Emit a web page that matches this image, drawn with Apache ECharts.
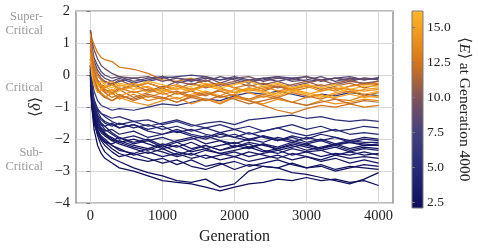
<!DOCTYPE html>
<html><head><meta charset="utf-8">
<script src="https://cdn.jsdelivr.net/npm/echarts@6/dist/echarts.min.js"></script>
<style>html,body{margin:0;padding:0;background:#fff}#c{width:478px;height:250px}</style>
</head><body><div id="c"></div>
<script>
// Generations sampled
const gens = [0,20,50,100,150,200,300,400,600,800,1000,1200,1400,1600,1800,2000,2200,2400,2600,2800,3000,3200,3400,3600,3800,4000];
const xTicks = [0,1000,2000,3000,4000];
const cbTicks = [2.5,5,7.5,10,12.5,15];
const cbMin = 2.07, cbMax = 16.2;
const cbStopVals = [2.07,5.0,7.5,10.0,12.5,15.0,16.2];
const cbStopCols = ['#0d0d5c','#272c78','#43417f','#80535a','#d6761a','#f7a01c','#fdb82a'];

// <E> at generation 4000 for each run
const energyN = [2.2,2.4,2.6,3.0,2.9,3.3,3.5,2.8,3.8,3.1,4.0,3.6,4.3,4.6,3.2,2.7,3.9,2.5];
const energyP = [8.0,6.0,5.2,7.6];
const energyW = [12.6,9.2,8.6,10.2,10.8,11.6,13.4,14.6,15.6,12.2,13.1,14.1,12.4,15.1,16.0,11.8,13.8];

// <delta> trajectories, sub-critical runs
const runN1 = [-0.10,-1.00,-1.70,-2.20,-2.45,-2.60,-2.75,-2.90,-3.00,-3.15,-3.30,-3.35,-3.40,-3.50,-3.62,-3.50,-3.40,-3.35,-3.25,-3.30,-3.20,-3.30,-3.25,-3.35,-3.30,-3.45];
const runN2 = [0.00,-0.85,-1.45,-1.90,-2.20,-2.40,-2.60,-2.70,-2.90,-3.05,-3.15,-3.30,-3.35,-3.25,-3.50,-3.40,-3.00,-2.85,-2.90,-3.05,-3.10,-3.20,-3.30,-3.40,-3.25,-3.05];
const runN3 = [0.10,-0.75,-1.30,-1.70,-1.95,-2.10,-2.30,-2.45,-2.60,-2.70,-2.60,-2.80,-2.65,-2.85,-2.75,-2.95,-2.80,-2.85,-2.90,-2.75,-2.90,-2.80,-2.95,-2.85,-2.90,-2.95];
const runN4 = [-0.20,-0.90,-1.40,-1.75,-1.90,-2.00,-2.20,-2.30,-2.50,-2.40,-2.55,-2.45,-2.60,-2.50,-2.65,-2.55,-2.70,-2.60,-2.50,-2.65,-2.55,-2.70,-2.60,-2.75,-2.65,-2.75];
const runN5 = [0.20,-0.60,-1.10,-1.45,-1.65,-1.80,-2.00,-2.10,-2.25,-2.35,-2.20,-2.40,-2.50,-2.35,-2.45,-2.55,-2.40,-2.50,-2.60,-2.45,-2.55,-2.65,-2.50,-2.60,-2.55,-2.60];
const runN6 = [0.00,-0.70,-1.20,-1.55,-1.70,-1.85,-2.05,-1.95,-2.15,-2.05,-2.25,-2.10,-2.30,-2.20,-2.35,-2.25,-2.15,-2.35,-2.45,-2.30,-2.40,-2.35,-2.50,-2.40,-2.50,-2.45];
const runN7 = [0.30,-0.50,-0.95,-1.30,-1.50,-1.60,-1.80,-1.95,-2.10,-2.00,-2.20,-2.05,-1.95,-2.15,-2.05,-2.25,-2.10,-2.20,-2.30,-2.15,-2.25,-2.35,-2.25,-2.40,-2.30,-2.35];
const runN8 = [-0.30,-1.00,-1.50,-1.85,-2.00,-2.10,-2.15,-2.05,-2.20,-2.30,-2.15,-2.25,-2.10,-2.30,-2.20,-2.10,-2.25,-2.15,-2.35,-2.25,-2.15,-2.30,-2.20,-2.35,-2.25,-2.30];
const runN9 = [0.20,-0.55,-1.00,-1.35,-1.55,-1.70,-1.85,-2.00,-1.90,-2.05,-1.95,-2.10,-2.00,-1.90,-2.05,-2.15,-2.00,-2.10,-1.95,-2.05,-2.15,-2.05,-2.20,-2.10,-2.15,-2.20];
const runN10 = [0.00,-0.80,-1.30,-1.65,-1.80,-1.90,-2.05,-2.15,-2.30,-2.45,-2.30,-2.50,-2.35,-2.20,-2.35,-2.20,-2.30,-2.15,-2.25,-2.10,-2.20,-2.30,-2.15,-2.10,-2.20,-2.15];
const runN11 = [0.40,-0.40,-0.85,-1.15,-1.35,-1.45,-1.55,-1.65,-1.55,-1.75,-1.85,-1.70,-1.85,-1.95,-1.80,-1.95,-2.05,-1.90,-2.00,-2.10,-1.95,-2.05,-1.95,-2.10,-2.00,-2.05];
const runN12 = [0.10,-0.65,-1.15,-1.50,-1.65,-1.75,-1.70,-1.85,-1.75,-1.95,-1.85,-1.75,-1.90,-2.00,-1.85,-1.95,-1.80,-1.95,-2.05,-1.90,-2.00,-1.85,-1.95,-2.05,-1.95,-2.00];
const runN13 = [0.30,-0.45,-0.90,-1.25,-1.40,-1.50,-1.60,-1.50,-1.65,-1.55,-1.70,-1.60,-1.75,-1.65,-1.80,-1.70,-1.85,-1.75,-1.65,-1.80,-1.90,-1.80,-1.70,-1.85,-1.80,-1.85];
const runN14 = [0.50,-0.30,-0.75,-1.05,-1.20,-1.30,-1.45,-1.55,-1.45,-1.60,-1.50,-1.40,-1.55,-1.65,-1.55,-1.70,-1.60,-1.75,-1.65,-1.55,-1.70,-1.60,-1.75,-1.70,-1.60,-1.65];
const runN15 = [-0.10,-0.85,-1.35,-1.75,-1.95,-2.05,-2.20,-2.35,-2.45,-2.30,-2.40,-2.55,-2.45,-2.60,-2.50,-2.40,-2.55,-2.45,-2.35,-2.50,-2.40,-2.55,-2.45,-2.50,-2.40,-2.50];
const runN16 = [0.10,-0.70,-1.25,-1.60,-1.75,-1.85,-1.95,-2.10,-2.00,-2.15,-2.30,-2.20,-2.40,-2.30,-2.45,-2.35,-2.25,-2.40,-2.30,-2.20,-2.35,-2.25,-2.15,-2.30,-2.20,-2.20];
const runN17 = [0.20,-0.55,-1.05,-1.40,-1.55,-1.60,-1.50,-1.65,-1.55,-1.70,-1.60,-1.80,-1.70,-1.85,-1.95,-1.85,-2.00,-1.90,-2.05,-1.95,-2.10,-2.00,-2.15,-2.05,-2.10,-2.10];
const runN18 = [0.00,-0.80,-1.35,-1.80,-2.05,-2.20,-2.40,-2.55,-2.45,-2.60,-2.75,-2.65,-2.85,-2.95,-2.80,-2.70,-2.85,-2.75,-2.65,-2.80,-2.90,-2.85,-3.00,-2.90,-2.80,-2.85];
// intermediate runs
const runP1 = [1.40,0.85,0.45,0.15,0.00,-0.10,-0.20,-0.10,-0.25,-0.15,-0.05,-0.10,-0.20,-0.10,-0.15,-0.05,-0.15,-0.10,-0.20,-0.10,-0.05,-0.15,-0.10,-0.05,-0.15,-0.10];
const runP2 = [0.50,-0.10,-0.50,-0.80,-0.95,-1.00,-1.10,-1.05,-1.10,-1.00,-0.90,-0.95,-0.85,-0.75,-0.80,-0.65,-0.55,-0.60,-0.50,-0.60,-0.70,-0.60,-0.65,-0.55,-0.60,-0.64];
const runP3 = [0.30,-0.40,-0.85,-1.10,-1.20,-1.25,-1.35,-1.30,-1.45,-1.40,-1.55,-1.45,-1.60,-1.50,-1.45,-1.55,-1.40,-1.35,-1.30,-1.25,-1.35,-1.30,-1.40,-1.45,-1.40,-1.45];
const runP4 = [1.30,0.70,0.30,0.00,-0.15,-0.20,-0.30,-0.20,-0.10,-0.20,-0.10,-0.05,0.00,-0.05,-0.15,-0.10,-0.20,-0.15,-0.05,-0.10,-0.20,-0.15,-0.10,-0.20,-0.10,-0.15];
// critical runs
const runW1 = [1.40,1.15,0.95,0.70,0.55,0.48,0.42,0.25,0.18,0.05,-0.15,-0.20,-0.10,-0.30,-0.25,-0.40,-0.30,-0.45,-0.35,-0.50,-0.40,-0.30,-0.45,-0.35,-0.25,-0.30];
const runW2 = [1.40,1.05,0.80,0.50,0.30,0.20,0.05,-0.05,-0.10,-0.05,-0.20,-0.10,-0.15,-0.05,-0.25,-0.10,-0.05,-0.20,-0.10,-0.15,-0.05,-0.20,-0.10,-0.15,-0.10,-0.12];
const runW3 = [1.35,0.90,0.55,0.30,0.10,0.00,-0.10,-0.05,-0.20,-0.10,-0.05,-0.25,-0.15,-0.20,-0.05,-0.15,-0.25,-0.10,-0.05,-0.20,-0.15,-0.05,-0.20,-0.10,-0.15,-0.08];
const runW4 = [1.20,0.70,0.35,0.05,-0.10,-0.20,-0.30,-0.15,-0.35,-0.25,-0.40,-0.20,-0.30,-0.15,-0.35,-0.25,-0.15,-0.30,-0.20,-0.35,-0.25,-0.15,-0.30,-0.20,-0.25,-0.20];
const runW5 = [1.00,0.55,0.15,-0.15,-0.30,-0.35,-0.25,-0.45,-0.30,-0.50,-0.35,-0.45,-0.25,-0.40,-0.30,-0.20,-0.35,-0.25,-0.40,-0.30,-0.20,-0.35,-0.25,-0.15,-0.30,-0.18];
const runW6 = [0.90,0.40,0.00,-0.25,-0.40,-0.50,-0.60,-0.45,-0.70,-0.55,-0.40,-0.60,-0.50,-0.65,-0.45,-0.55,-0.40,-0.50,-0.35,-0.45,-0.30,-0.45,-0.35,-0.25,-0.40,-0.30];
const runW7 = [1.30,0.80,0.35,0.00,-0.15,-0.25,-0.20,-0.35,-0.25,-0.40,-0.50,-0.35,-0.45,-0.30,-0.40,-0.55,-0.45,-0.35,-0.50,-0.40,-0.30,-0.40,-0.50,-0.35,-0.30,-0.25];
const runW8 = [0.80,0.30,-0.05,-0.30,-0.45,-0.55,-0.45,-0.65,-0.50,-0.70,-0.55,-0.75,-0.60,-0.50,-0.65,-0.45,-0.55,-0.70,-0.55,-0.45,-0.60,-0.50,-0.40,-0.55,-0.45,-0.40];
const runW9 = [0.70,0.20,-0.15,-0.35,-0.30,-0.45,-0.60,-0.50,-0.35,-0.55,-0.45,-0.60,-0.40,-0.55,-0.70,-0.60,-0.45,-0.55,-0.65,-0.50,-0.60,-0.70,-0.55,-0.45,-0.60,-0.50];
const runW10 = [1.10,0.60,0.20,-0.20,-0.40,-0.55,-0.70,-0.60,-0.80,-0.65,-0.75,-0.55,-0.70,-0.60,-0.50,-0.65,-0.75,-0.60,-0.70,-0.55,-0.65,-0.75,-0.60,-0.50,-0.65,-0.55];
const runW11 = [0.60,0.10,-0.25,-0.50,-0.60,-0.70,-0.55,-0.75,-0.60,-0.80,-0.70,-0.85,-0.65,-0.75,-0.90,-0.70,-0.80,-0.65,-0.75,-0.85,-0.70,-0.60,-0.75,-0.80,-0.65,-0.70];
const runW12 = [0.90,0.30,-0.10,-0.40,-0.55,-0.65,-0.80,-0.70,-0.85,-0.95,-0.80,-0.70,-0.90,-0.75,-0.85,-0.70,-0.80,-0.90,-0.75,-0.85,-0.95,-0.80,-0.90,-0.85,-0.75,-0.80];
const runW13 = [1.00,0.50,0.10,-0.20,-0.35,-0.45,-0.55,-0.40,-0.55,-0.45,-0.60,-0.50,-0.65,-0.55,-0.70,-0.60,-0.80,-0.95,-1.10,-1.20,-1.05,-0.95,-1.00,-0.90,-1.00,-0.95];
const runW14 = [0.50,0.00,-0.30,-0.55,-0.45,-0.35,-0.50,-0.30,-0.45,-0.35,-0.55,-0.40,-0.50,-0.35,-0.45,-0.55,-0.40,-0.50,-0.60,-0.45,-0.55,-0.65,-0.70,-0.60,-0.70,-0.65];
const runW15 = [0.60,0.15,-0.10,-0.30,-0.20,-0.30,-0.40,-0.25,-0.35,-0.20,-0.30,-0.45,-0.35,-0.25,-0.40,-0.30,-0.20,-0.35,-0.25,-0.40,-0.30,-0.40,-0.30,-0.45,-0.35,-0.35];
const runW16 = [0.80,0.30,-0.10,-0.45,-0.60,-0.70,-0.80,-0.65,-0.75,-0.60,-0.70,-0.85,-0.70,-0.80,-0.65,-0.75,-0.90,-0.80,-0.70,-0.85,-0.95,-0.85,-0.75,-0.90,-0.80,-0.85];
const runW17 = [0.70,0.25,-0.05,-0.25,-0.35,-0.40,-0.30,-0.45,-0.35,-0.25,-0.40,-0.30,-0.45,-0.35,-0.25,-0.40,-0.50,-0.40,-0.30,-0.45,-0.35,-0.50,-0.40,-0.45,-0.50,-0.45];

const runsN = [runN1,runN2,runN3,runN4,runN5,runN6,runN7,runN8,runN9,runN10,runN11,runN12,runN13,runN14,runN15,runN16,runN17,runN18];
const runsP = [runP1,runP2,runP3,runP4];
const runsW = [runW1,runW2,runW3,runW4,runW5,runW6,runW7,runW8,runW9,runW10,runW11,runW12,runW13,runW14,runW15,runW16,runW17];

function hex2rgb(h){return [parseInt(h.slice(1,3),16),parseInt(h.slice(3,5),16),parseInt(h.slice(5,7),16)];}
function cmap(v){
  v = Math.max(cbStopVals[0], Math.min(cbStopVals[cbStopVals.length-1], v));
  for (let i=0;i<cbStopVals.length-1;i++){
    if (v<=cbStopVals[i+1]){
      const t=(v-cbStopVals[i])/(cbStopVals[i+1]-cbStopVals[i]);
      const a=hex2rgb(cbStopCols[i]), b=hex2rgb(cbStopCols[i+1]);
      return 'rgb('+a.map((x,k)=>Math.round(x+(b[k]-x)*t)).join(',')+')';
    }
  }
  return cbStopCols[cbStopCols.length-1];
}

const allRuns = [];
runsN.forEach((r,i)=>allRuns.push([energyN[i], r]));
runsP.forEach((r,i)=>allRuns.push([energyP[i], r]));
runsW.forEach((r,i)=>allRuns.push([energyW[i], r]));

const series = allRuns.map(([e, r]) => ({
  type:'line', xAxisIndex:0, yAxisIndex:0, showSymbol:false, symbol:'none',
  data: gens.map((g,i)=>[g, r[i]]),
  lineStyle:{width:1.25, color:cmap(e)}, silent:true, animation:false
}));

const serif = 'Liberation Serif';
const chart = echarts.init(document.getElementById('c'), null, {renderer:'canvas'});
chart.setOption({
  animation:false,
  grid:[
    {left:76, top:11, width:317, height:198, show:true, borderColor:'#7a7a7a', borderWidth:1.2, backgroundColor:'transparent'},
    {left:412, top:11, width:11, height:197, show:true, borderColor:'#7a7a7a', borderWidth:1,
     backgroundColor: new echarts.graphic.LinearGradient(0,1,0,0, cbStopVals.map((v,i)=>({offset:(v-cbMin)/(cbMax-cbMin), color:cbStopCols[i]})))}
  ],
  xAxis:[
    {type:'value', gridIndex:0, min:-200, max:4200,
     name:'Generation', nameLocation:'middle', nameGap:20,
     nameTextStyle:{fontFamily:serif, fontSize:16, color:'#222'},
     axisLine:{show:false},
     axisTick:{show:true, customValues:xTicks, length:4, lineStyle:{color:'#7a7a7a'}},
     axisLabel:{customValues:xTicks, fontFamily:serif, fontSize:14.5, color:'#222', margin:6, formatter:v=>String(v)},
     splitLine:{show:true, lineStyle:{color:'#d6d6d6', width:1}}},
    {type:'value', gridIndex:1, show:false, min:0, max:1}
  ],
  yAxis:[
    {type:'value', gridIndex:0, min:-4, max:2, interval:1,
     name:'{a|⟨}{d|δ}{a|⟩}', nameLocation:'middle', nameGap:30,
     nameTextStyle:{rich:{a:{fontFamily:serif, fontSize:16, color:'#222'}, d:{fontFamily:serif, fontStyle:'italic', fontSize:16, color:'#222'}}},
     axisLine:{show:false},
     axisTick:{show:true, length:4, lineStyle:{color:'#7a7a7a'}},
     axisLabel:{fontFamily:serif, fontSize:14.5, color:'#222', margin:6, formatter:v=> v<0 ? '\u2212'+Math.abs(v) : String(v)},
     splitLine:{show:true, lineStyle:{color:'#d6d6d6', width:1}}},
    {type:'value', gridIndex:1, position:'right', min:cbMin, max:cbMax,
     name:'{a|⟨}{e|E}{a|⟩ at Generation 4000}', nameLocation:'middle', nameGap:33, nameRotate:-90,
     nameTextStyle:{rich:{a:{fontFamily:serif, fontSize:15.5, color:'#222'}, e:{fontFamily:serif, fontStyle:'italic', fontSize:15.5, color:'#222'}}},
     axisLine:{show:false},
     axisTick:{show:true, customValues:cbTicks, length:3, lineStyle:{color:'#7a7a7a'}},
     axisLabel:{customValues:cbTicks, fontFamily:serif, fontSize:13.5, color:'#222', margin:4, formatter:v=>v.toFixed(1)},
     splitLine:{show:false}}
  ],
  graphic:[
    {type:'text', style:{text:'Super-\nCritical', x:43, y:24, align:'right', verticalAlign:'middle', font:'12.5px "Liberation Serif"', fill:'#9a9a9a', lineHeight:14}},
    {type:'text', style:{text:'Critical', x:43, y:88, align:'right', verticalAlign:'middle', font:'12.5px "Liberation Serif"', fill:'#9a9a9a'}},
    {type:'text', style:{text:'Sub-\nCritical', x:43, y:160, align:'right', verticalAlign:'middle', font:'12.5px "Liberation Serif"', fill:'#9a9a9a', lineHeight:14}}
  ],
  series: series
});
</script></body></html>
